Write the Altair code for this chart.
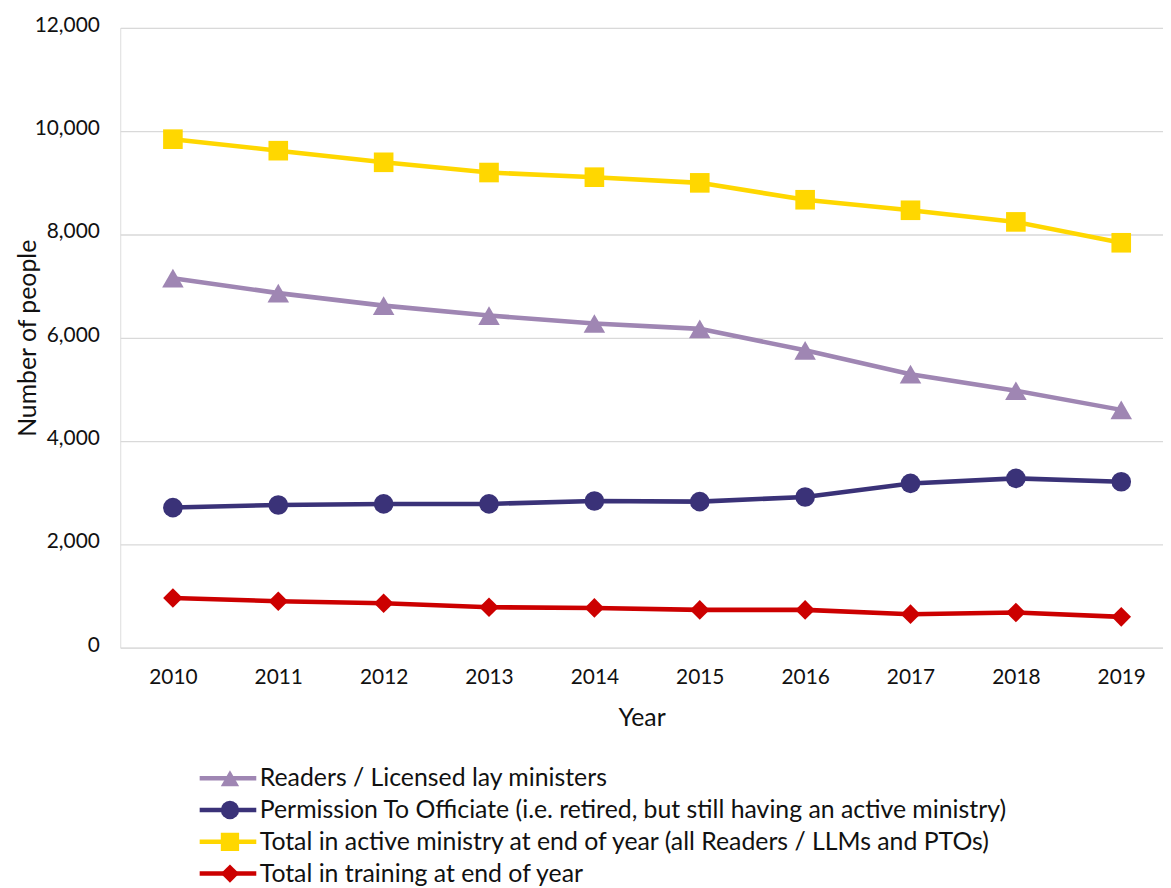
import altair as alt
import pandas as pd

years = [2010, 2011, 2012, 2013, 2014, 2015, 2016, 2017, 2018, 2019]
series_names = [
    "Readers / Licensed lay ministers",
    "Permission To Officiate (i.e. retired, but still having an active ministry)",
    "Total in active ministry at end of year (all Readers / LLMs and PTOs)",
    "Total in training at end of year",
]
series_keys = ["k1", "k2", "k3", "k4"]
readers = [7154, 6865, 6623, 6430, 6277, 6173, 5757, 5296, 4975, 4604]
pto = [2712, 2763, 2783, 2783, 2840, 2827, 2917, 3180, 3277, 3212]
total_active = [9846, 9623, 9398, 9200, 9110, 9000, 8673, 8469, 8244, 7840]
training = [961, 898, 859, 782, 769, 731, 731, 648, 680, 596]
y_ticks = [0, 2000, 4000, 6000, 8000, 10000, 12000]

colors = ["#9F86B3", "#3A3278", "#FFD700", "#CC0000"]
shapes = ["triangle-up", "circle", "square", "diamond"]

rows = []
for name, key, vals in zip(series_names, series_keys,
                           [readers, pto, total_active, training]):
    for yr, v in zip(years, vals):
        rows.append({"Year": yr, "Series": name, "Key": key, "Value": v})
df = pd.DataFrame(rows)

FONT = "Lato"
TXT = "#111111"

x_enc = alt.X(
    "Year:Q",
    scale=alt.Scale(domain=[2009.5, 2019.3963], nice=False, zero=False),
    axis=alt.Axis(
        values=years, format="d", grid=False, domain=False, ticks=False, tickSize=0,
        labelPadding=19.5, labelFontSize=21, labelFlush=False, labelColor=TXT,
        title="Year", titleFontSize=25, titleFontWeight="normal", titleColor=TXT,
        titleY=70, titleBaseline="middle",
    ),
)
y_enc = alt.Y(
    "Value:Q",
    scale=alt.Scale(domain=[0, 12000], nice=False),
    axis=alt.Axis(
        values=y_ticks, format=",.0f", grid=True, gridColor="#D9D9D9", gridWidth=1.3,
        domain=False, ticks=False, tickSize=0, labelPadding=21, labelFontSize=21,
        labelColor=TXT, labelOffset=-2.5,
        title="Number of people", titleFontSize=25, titleFontWeight="normal",
        titleColor=TXT, titleX=-93, titleY=312, titleBaseline="middle",
    ),
)

line_legend = alt.Legend(
    title=None, orient="none", legendX=77.5, legendY=745.5, direction="vertical",
    symbolType="stroke", symbolSize=3249, symbolStrokeWidth=4.5, clipHeight=20,
    rowPadding=7, labelOffset=1, labelFontSize=25, labelLimit=1000, padding=0,
    labelColor=TXT,
)
point_legend = alt.Legend(
    title=None, orient="none", legendX=98, legendY=745.5, direction="vertical",
    symbolSize=340, symbolStrokeWidth=0, clipHeight=20, rowPadding=7,
    labelExpr="''", labelFontSize=25, padding=0, symbolOpacity=1,
)

lines = alt.Chart(df).mark_line(strokeWidth=4.6).encode(
    x=x_enc,
    y=y_enc,
    color=alt.Color("Series:N", scale=alt.Scale(domain=series_names, range=colors),
                    legend=line_legend),
)

points = alt.Chart(df).mark_point(filled=True, opacity=1).encode(
    x=x_enc,
    y=y_enc,
    shape=alt.Shape("Key:N", scale=alt.Scale(domain=series_keys, range=shapes),
                    legend=point_legend),
    fill=alt.Fill("Key:N", scale=alt.Scale(domain=series_keys, range=colors),
                  legend=point_legend),
    size=alt.condition("datum.Key == 'k1'", alt.value(470), alt.value(390)),
)

chart = alt.layer(lines, points).properties(
    width=1050,
    height=624,
    autosize=alt.AutoSizeParams(type="none"),
    padding={"left": 113, "top": 17, "right": 0, "bottom": 245},
    background="white",
).configure_view(stroke=None).configure(font=FONT)

chart.save("out.html", embed_options={"renderer": "svg", "actions": False})
